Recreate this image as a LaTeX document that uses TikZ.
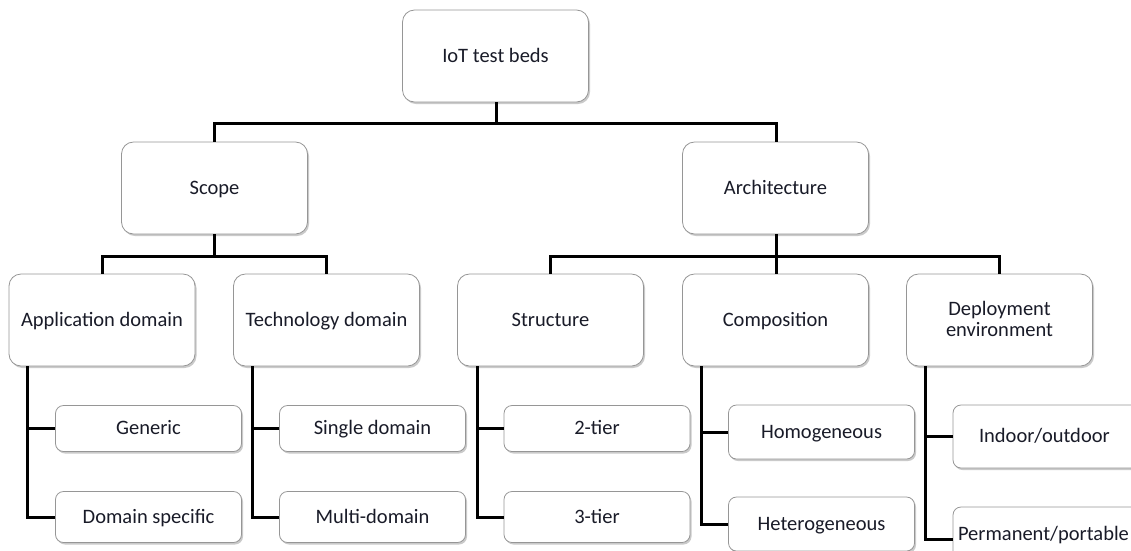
\documentclass[tikz,border=0pt]{standalone}
\usepackage{fontspec}
\setmainfont{Carlito}
\usetikzlibrary{shadows}
\definecolor{txt}{RGB}{25,27,40}
\definecolor{bord}{RGB}{150,150,150}
\tikzset{
  box/.style={draw=bord, line width=0.8pt, fill=white, rounded corners=12pt,
    minimum width=186pt, inner sep=2pt, text=txt, align=center,
    text height=12pt, text depth=0pt,
    font=\fontsize{20.5}{21}\selectfont,
    drop shadow={opacity=0.35, shadow xshift=1.5pt, shadow yshift=-2pt, fill=black!60}},
  big/.style={box, minimum height=92pt},
  leaf/.style={box, rounded corners=8pt},
  conn/.style={line width=3pt, black}
}
\begin{document}
\begin{tikzpicture}[x=1pt,y=-1pt]
\path[use as bounding box] (0,0) rectangle (1131,550);
\clip (0,0) rectangle (1131,550);
% level 0
\node[big] (root) at (495.5,56) {IoT test beds};
% level 1
\node[big] (scope) at (214.5,188) {Scope};
\node[big] (arch) at (775.5,188) {Architecture};
% level 2
\node[big] (app) at (102,320) {Application domain};
\node[big] (tech) at (326.5,320) {Technology domain};
\node[big] (struct) at (550.5,320) {Structure};
\node[big] (comp) at (775.5,320) {Composition};
\node[big, text height=33pt] (deploy) at (999.5,320) {Deployment\\environment};
% leaves
\node[leaf, minimum height=46pt] (generic) at (148.5,428.5) {Generic};
\node[leaf, minimum height=51pt] (dspec) at (148.5,517) {Domain specific};
\node[leaf, minimum height=46pt] (single) at (372.5,428.5) {Single domain};
\node[leaf, minimum height=51pt] (multi) at (372.5,517) {Multi-domain};
\node[leaf, minimum height=46pt] (t2) at (597,428.5) {2-tier};
\node[leaf, minimum height=51pt] (t3) at (597,517) {3-tier};
\node[leaf, minimum height=54pt] (homo) at (821.5,432) {Homogeneous};
\node[leaf, minimum height=54pt] (hetero) at (821.5,524) {Heterogeneous};
\node[leaf, minimum height=63pt, minimum width=210pt, text width=172pt, align=left] (indoor) at (1058,436.5) {\hspace*{7pt}Indoor/outdoor};
\node[leaf, minimum height=54pt, minimum width=210pt, text width=200pt, align=left] (perm) at (1058,534) {Permanent/portable};
% connectors
\coordinate (b0) at (496,123);
\coordinate (b1) at (214,256);
\coordinate (b2) at (776,256);
\draw[conn] (root.south -| b0) -- (b0);
\draw[conn] (scope.north -| b1) |- (b0) -| (arch.north -| b2);
\draw[conn] (scope.south -| b1) -- (b1);
\draw[conn] (app.north) |- (b1) -| (tech.north);
\draw[conn] (arch.south -| b2) -- (b2);
\draw[conn] (struct.north) |- (b2) -| (deploy.north);
\draw[conn] (comp.north -| b2) -- (b2);
\draw[conn] ([xshift=19pt]app.south west) |- (generic.west);
\draw[conn] ([xshift=19pt]app.south west) |- (dspec.west);
\draw[conn] ([xshift=19pt]tech.south west) |- (single.west);
\draw[conn] ([xshift=19pt]tech.south west) |- (multi.west);
\draw[conn] ([xshift=20pt]struct.south west) |- (t2.west);
\draw[conn] ([xshift=20pt]struct.south west) |- (t3.west);
\draw[conn] ([xshift=19pt]comp.south west) |- (homo.west);
\draw[conn] ([xshift=19pt]comp.south west) |- (hetero.west);
\draw[conn] ([xshift=19pt]deploy.south west) |- (indoor.west);
\draw[conn] ([xshift=19pt]deploy.south west) |- ([yshift=-5pt]perm.west);
\end{tikzpicture}
\end{document}
